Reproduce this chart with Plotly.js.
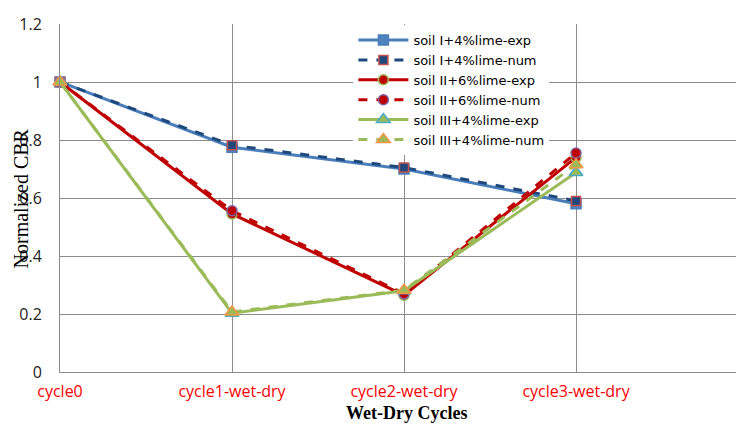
<!DOCTYPE html>
<html>
<head>
<meta charset="utf-8">
<script src="https://cdn.plot.ly/plotly-3.0.1.min.js"></script>
<style>html,body{margin:0;padding:0;background:#fff;}#chart{width:736px;height:425px;}</style>
</head>
<body>
<div id="chart"></div>
<script>
const categories = ["cycle0", "cycle1-wet-dry", "cycle2-wet-dry", "cycle3-wet-dry"];
const soil1Exp = [1, 0.775, 0.70, 0.58];
const soil1Num = [1, 0.782, 0.705, 0.59];
const soil2Exp = [1, 0.545, 0.265, 0.74];
const soil2Num = [1, 0.556, 0.27, 0.755];
const soil3Exp = [1, 0.203, 0.28, 0.688];
const soil3Num = [1, 0.207, 0.282, 0.715];
const seriesNames = ["soil I+4%lime-exp", "soil I+4%lime-num", "soil II+6%lime-exp", "soil II+6%lime-num", "soil III+4%lime-exp", "soil III+4%lime-num"];

function tr(y, name, lineColor, dash, sym, size, fill, border) {
  return {
    x: categories, y: y, name: name, type: 'scatter', mode: 'lines+markers',
    cliponaxis: false,
    line: {color: lineColor, width: 3, dash: dash},
    marker: {symbol: sym, size: size, color: fill, line: {color: border, width: 1.5}}
  };
}

const data = [
  tr(soil1Exp, seriesNames[0], '#4a7ebb', 'solid', 'square', 10, '#4f81bd', '#4a7ebb'),
  tr(soil1Num, seriesNames[1], '#1f497d', 'dash', 'square', 9, '#1f497d', '#c0504d'),
  tr(soil2Exp, seriesNames[2], '#c00000', 'solid', 'circle', 10, '#c00000', '#9bbb59'),
  tr(soil2Num, seriesNames[3], '#c00000', 'dash', 'circle', 10, '#c00000', '#8064a2'),
  tr(soil3Exp, seriesNames[4], '#9bbb59', 'solid', 'triangle-up', 12, '#9bbb59', '#4bacc6'),
  tr(soil3Num, seriesNames[5], '#9bbb59', 'dash', 'triangle-up', 12, '#9bbb59', '#f79646')
];

const layout = {
  width: 736, height: 425,
  margin: {l: 60, r: 0, t: 24, b: 53},
  paper_bgcolor: '#fff', plot_bgcolor: '#fff',
  showlegend: true,
  legend: {
    x: 0.434, y: 0.997, xanchor: 'left', yanchor: 'top',
    bgcolor: '#ffffff', borderwidth: 0,
    itemwidth: 50,
    font: {family: 'DejaVu Sans, sans-serif', size: 13, color: '#000'},
    tracegroupgap: 0
  },
  xaxis: {
    type: 'category', range: [0, 3.93],
    showgrid: true, gridcolor: '#8c8c8c', gridwidth: 1,
    showline: true, linecolor: '#8c8c8c', linewidth: 1,
    ticks: 'outside', ticklen: 5, tickcolor: 'rgba(0,0,0,0)',
    tickfont: {family: 'Open Sans, sans-serif', size: 16, color: '#ff0000'},
    zeroline: false
  },
  yaxis: {
    range: [0, 1.2], dtick: 0.2, tick0: 0,
    showgrid: true, gridcolor: '#8c8c8c', gridwidth: 1,
    showline: true, linecolor: '#8c8c8c', linewidth: 1,
    ticks: 'outside', ticklen: 14, tickcolor: 'rgba(0,0,0,0)',
    tickfont: {family: 'Open Sans, sans-serif', size: 16, color: '#222'},
    zeroline: false
  },
  annotations: [{
    text: 'Normalized CBR', xref: 'paper', yref: 'paper',
    x: -0.057, y: 0.5, xanchor: 'center', yanchor: 'middle', textangle: -90,
    showarrow: false,
    font: {family: 'Liberation Serif, Times New Roman, serif', size: 20, color: '#000'}
  }, {
    text: '<b>Wet-Dry Cycles</b>', xref: 'paper', yref: 'paper',
    x: 0.512, y: -0.152, xanchor: 'center', yanchor: 'bottom',
    showarrow: false,
    font: {family: 'Liberation Serif, Times New Roman, serif', size: 18, color: '#000'}
  }]
};

Plotly.newPlot('chart', data, layout, {displayModeBar: false, staticPlot: true});
</script>
</body>
</html>
